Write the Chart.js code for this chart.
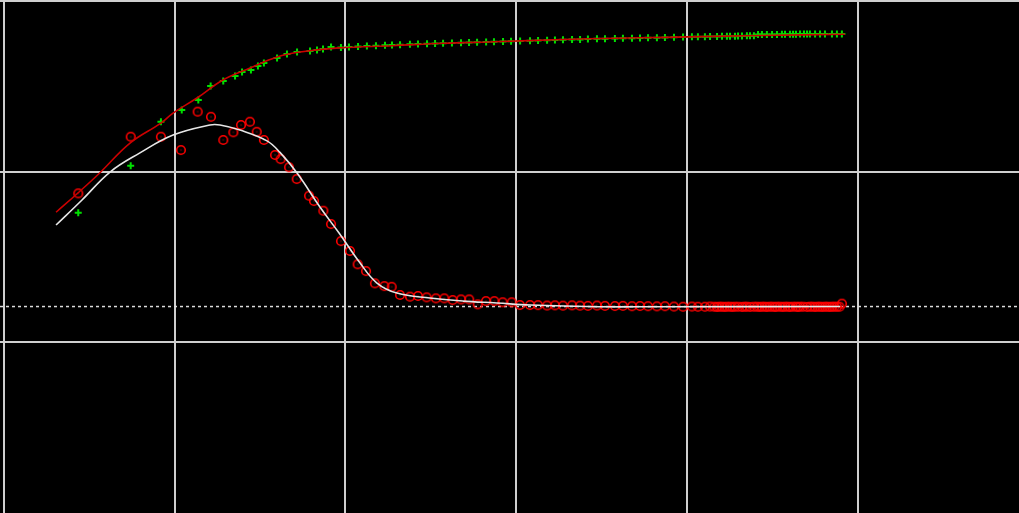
<!DOCTYPE html>
<html>
<head>
<meta charset="utf-8">
<script src="https://cdn.jsdelivr.net/npm/chart.js@4/dist/chart.umd.min.js"></script>
<style>
  html, body { margin: 0; padding: 0; background: #000; overflow: hidden; }
  canvas { display: block; }
</style>
</head>
<body>
<canvas id="myChart" width="1019" height="513"></canvas>
<script>
// measured points (green crosses)
const crossX = [0.436, 0.743, 0.920, 1.042, 1.139, 1.211, 1.285, 1.354, 1.395, 1.447, 1.488, 1.523, 1.600, 1.658, 1.717, 1.793, 1.834, 1.869, 1.916,
  1.974, 2.021, 2.074, 2.126, 2.179, 2.232, 2.273, 2.320, 2.378, 2.425, 2.478, 2.525, 2.572, 2.624, 2.677, 2.724, 2.771, 2.824, 2.870, 2.923,
  2.970, 3.023, 3.081, 3.128, 3.181, 3.227, 3.274, 3.327, 3.374, 3.420, 3.473, 3.520, 3.578, 3.625, 3.678, 3.725, 3.772, 3.824, 3.871,
  3.924, 3.977, 4.029, 4.064, 4.105, 4.135, 4.176, 4.205, 4.234, 4.252, 4.281, 4.299, 4.322, 4.351, 4.369, 4.392, 4.416, 4.439, 4.468,
  4.498, 4.527, 4.556, 4.574, 4.603, 4.621, 4.638, 4.662, 4.685, 4.703, 4.720, 4.750, 4.779, 4.808, 4.849, 4.878, 4.907];
const crossY = [1.758, 2.034, 2.292, 2.361, 2.419, 2.501, 2.531, 2.560, 2.584, 2.595, 2.619, 2.636, 2.666, 2.689, 2.701, 2.707, 2.713, 2.719, 2.731,
  2.728, 2.730, 2.733, 2.736, 2.738, 2.740, 2.742, 2.744, 2.746, 2.748, 2.749, 2.751, 2.752, 2.754, 2.755, 2.757, 2.758, 2.760, 2.761, 2.763,
  2.764, 2.766, 2.767, 2.769, 2.770, 2.771, 2.773, 2.774, 2.775, 2.777, 2.778, 2.779, 2.780, 2.781, 2.782, 2.783, 2.784, 2.785, 2.786,
  2.788, 2.789, 2.790, 2.790, 2.791, 2.792, 2.792, 2.793, 2.793, 2.794, 2.794, 2.795, 2.795, 2.796, 2.796, 2.797, 2.803, 2.803, 2.804,
  2.804, 2.804, 2.805, 2.805, 2.805, 2.805, 2.805, 2.806, 2.806, 2.806, 2.806, 2.806, 2.806, 2.806, 2.806, 2.806, 2.806];

// measured points (red circles)
const circleX = [0.436, 0.743, 0.920, 1.037, 1.135, 1.213, 1.285, 1.344, 1.389, 1.441, 1.481, 1.523, 1.588, 1.621, 1.670, 1.715, 1.787, 1.816, 1.871, 1.916,
  1.974, 2.027, 2.072, 2.121, 2.173, 2.228, 2.271, 2.320, 2.378, 2.425, 2.476, 2.530, 2.579, 2.628, 2.677, 2.725, 2.775, 2.823, 2.872, 2.921,
  2.974, 3.022, 3.081, 3.128, 3.181, 3.227, 3.274, 3.327, 3.374, 3.420, 3.473, 3.520, 3.578, 3.625, 3.678, 3.725, 3.772, 3.824, 3.871,
  3.924, 3.977, 4.029, 4.064, 4.105, 4.135, 4.160, 4.176, 4.190, 4.205, 4.220, 4.234, 4.252, 4.266, 4.281, 4.300, 4.322, 4.337,
  4.351, 4.370, 4.392, 4.410, 4.425, 4.439, 4.455, 4.468, 4.485, 4.500, 4.515, 4.527, 4.545, 4.560, 4.574, 4.590, 4.603, 4.620,
  4.638, 4.650, 4.662, 4.680, 4.703, 4.720, 4.735, 4.750, 4.765, 4.779, 4.793, 4.808, 4.822, 4.835, 4.849, 4.863, 4.878, 4.893, 4.907];
const circleY = [1.872, 2.204, 2.204, 2.126, 2.351, 2.321, 2.185, 2.230, 2.273, 2.292, 2.233, 2.185, 2.097, 2.073, 2.025, 1.956, 1.858, 1.827, 1.770, 1.692,
  1.592, 1.534, 1.456, 1.416, 1.344, 1.328, 1.324, 1.276, 1.266, 1.270, 1.262, 1.256, 1.256, 1.246, 1.250, 1.250, 1.221, 1.240, 1.240, 1.233,
  1.233, 1.217, 1.217, 1.216, 1.214, 1.215, 1.213, 1.215, 1.213, 1.212, 1.214, 1.212, 1.211, 1.212, 1.210, 1.211, 1.210, 1.209, 1.210,
  1.208, 1.207, 1.208, 1.207, 1.207, 1.208, 1.207, 1.206, 1.207, 1.207, 1.206, 1.207, 1.207, 1.206, 1.207, 1.207, 1.206, 1.207,
  1.207, 1.206, 1.207, 1.207, 1.206, 1.207, 1.207, 1.206, 1.207, 1.207, 1.206, 1.207, 1.207, 1.206, 1.207, 1.207, 1.206, 1.207,
  1.207, 1.206, 1.207, 1.207, 1.206, 1.207, 1.207, 1.206, 1.207, 1.207, 1.206, 1.207, 1.207, 1.206, 1.207, 1.207, 1.207, 1.207, 1.225];

// fitted curves
const fitCrossX = [0.306, 0.434, 0.563, 0.739, 0.920, 0.991, 1.131, 1.283, 1.442, 1.600, 1.734, 1.962, 2.273, 2.572, 2.870, 3.274, 3.578, 3.871, 4.428, 4.925];
const fitCrossY = [1.761, 1.874, 1.993, 2.167, 2.284, 2.343, 2.431, 2.537, 2.607, 2.672, 2.701, 2.725, 2.738, 2.752, 2.761, 2.774, 2.782, 2.787, 2.798, 2.805];
const fitCircleX = [0.306, 0.458, 0.622, 0.797, 0.991, 1.207, 1.266, 1.383, 1.541, 1.617, 1.717, 1.851, 1.963, 2.086, 2.185, 2.302, 2.495, 2.689, 2.887, 3.081, 3.473, 3.859, 4.896];
const fitCircleY = [1.686, 1.833, 1.997, 2.109, 2.214, 2.273, 2.273, 2.243, 2.180, 2.112, 1.991, 1.792, 1.639, 1.463, 1.346, 1.287, 1.258, 1.240, 1.229, 1.217, 1.207, 1.207, 1.208];

// reference level (dashed)
const levelY = 1.208;

// axis ranges and grid
const xRange = [-0.0222, 5.944];
const yRange = [-0.003, 3.006];
const xTicks = [0, 1, 2, 3, 4, 5];
const yTicks = [1, 2, 3];

const toPoints = (xs, ys) => xs.map((x, i) => ({ x: x, y: ys[i] }));

// circle with a small dot in the middle
const makeRing = () => {
  const c = document.createElement('canvas');
  c.width = 12;
  c.height = 12;
  const g = c.getContext('2d');
  g.strokeStyle = '#ff0000';
  g.lineWidth = 1.6;
  g.beginPath();
  g.arc(6, 6, 4.3, 0, Math.PI * 2);
  g.stroke();
  g.fillStyle = '#cc0000';
  g.fillRect(5.5, 5.5, 1, 1);
  return c;
};

const gridOpts = {
  color: '#cfcfcf',
  lineWidth: 2,
  drawTicks: false
};

const ctx = document.getElementById('myChart').getContext('2d');
const chart = new Chart(ctx, {
  type: 'scatter',
  data: {
    datasets: [
      {
        label: 'fit 1',
        type: 'line',
        data: toPoints(fitCrossX, fitCrossY),
        borderColor: '#cc0000',
        borderWidth: 1.6,
        pointRadius: 0,
        tension: 0.4,
        order: 0
      },
      {
        label: 'fit 2',
        type: 'line',
        data: toPoints(fitCircleX, fitCircleY),
        borderColor: '#e6e6e6',
        borderWidth: 1.6,
        pointRadius: 0,
        tension: 0.4,
        order: 0
      },
      {
        label: 'series 1',
        data: toPoints(crossX, crossY),
        pointStyle: 'cross',
        pointRadius: 3.5,
        borderColor: '#00e000',
        borderWidth: 2,
        order: 1
      },
      {
        label: 'series 2',
        data: toPoints(circleX, circleY),
        pointStyle: makeRing(),
        order: 1
      },
      {
        label: 'level',
        type: 'line',
        data: [{ x: xRange[0], y: levelY }, { x: xRange[1], y: levelY }],
        borderColor: '#dcdcdc',
        borderWidth: 1.5,
        borderDash: [3, 3],
        pointRadius: 0,
        order: 2
      }
    ]
  },
  options: {
    responsive: false,
    animation: false,
    layout: { padding: 0, autoPadding: false },
    plugins: {
      legend: { display: false },
      tooltip: { enabled: false }
    },
    scales: {
      x: {
        type: 'linear',
        min: xRange[0],
        max: xRange[1],
        afterBuildTicks: (scale) => { scale.ticks = xTicks.map((v) => ({ value: v })); },
        ticks: { display: false },
        border: { display: false },
        grid: gridOpts
      },
      y: {
        type: 'linear',
        min: yRange[0],
        max: yRange[1],
        afterBuildTicks: (scale) => { scale.ticks = yTicks.map((v) => ({ value: v })); },
        ticks: { display: false },
        border: { display: false },
        grid: gridOpts
      }
    }
  }
});
</script>
</body>
</html>
